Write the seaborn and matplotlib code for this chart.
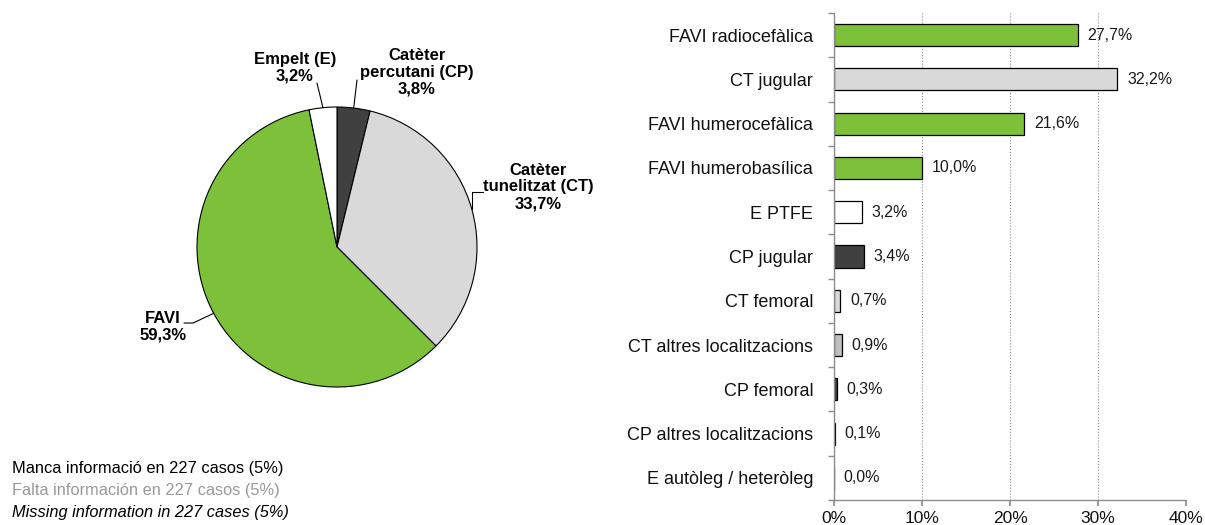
import numpy as np
import matplotlib
matplotlib.use("Agg")
import matplotlib.pyplot as plt
import seaborn as sns

# pie: clockwise from the top
pie_labels = ["Catèter\npercutani (CP)", "Catèter\ntunelitzat (CT)", "FAVI", "Empelt (E)"]
pie_values = [3.8, 33.7, 59.3, 3.2]
pie_colors = ["#404040", "#d9d9d9", "#7dc13b", "#ffffff"]

bar_labels = [
    "FAVI radiocefàlica", "CT jugular", "FAVI humerocefàlica", "FAVI humerobasílica",
    "E PTFE", "CP jugular", "CT femoral", "CT altres localitzacions",
    "CP femoral", "CP altres localitzacions", "E autòleg / heteròleg",
]
bar_values = [27.7, 32.2, 21.6, 10.0, 3.2, 3.4, 0.7, 0.9, 0.3, 0.1, 0.0]
bar_colors = [
    "#7dc13b", "#d9d9d9", "#7dc13b", "#7dc13b", "#ffffff", "#404040",
    "#d9d9d9", "#bfbfbf", "#404040", "#404040", "#ffffff",
]
x_ticks = [0, 10, 20, 30, 40]

footer_lines = [
    "Manca informació en 227 casos (5%)",
    "Falta información en 227 casos (5%)",
    "Missing information in 227 cases (5%)",
]

sns.set_theme(style="white")
plt.rcParams["font.family"] = ["Liberation Sans", "DejaVu Sans"]
plt.rcParams["text.color"] = "black"


def pct(v):
    return f"{v:.1f}%".replace(".", ",")


fig = plt.figure(figsize=(12.05, 5.25), dpi=100)

# ---- pie ----
pax = fig.add_axes([162 / 1205, 103 / 525, 350 / 1205, 350 / 525])
wedges, _ = pax.pie(
    pie_values, colors=pie_colors, startangle=90, counterclock=False,
    wedgeprops=dict(edgecolor="black", linewidth=0.8),
)
pax.set_xlim(-1.25, 1.25)
pax.set_ylim(-1.25, 1.25)
pax.set_aspect("equal")

# label centre, leader start, horizontal run before heading to the wedge (None = up to wedge x)
label_pos = [(0.57, 1.25), (1.436, 0.429), (-1.243, -0.571), (-0.30, 1.279)]
leader_start = [(0.143, 1.193), (1.043, 0.393), (-1.093, -0.543), (-0.143, 1.171)]
leader_run = [0.0, None, 0.065, 0.0]

for w, lab, val, tp, ls, run in zip(wedges, pie_labels, pie_values, label_pos, leader_start, leader_run):
    ang = np.deg2rad((w.theta1 + w.theta2) / 2)
    ex, ey = np.cos(ang), np.sin(ang)
    pax.text(tp[0], tp[1], f"{lab}\n{pct(val)}", ha="center", va="center",
             fontsize=12, fontweight="bold", linespacing=1.15, color="black")
    if run is None:
        xs = [ls[0], ex, ex]
        ys = [ls[1], ls[1], ey]
    elif run:
        xs = [ls[0], ls[0] + run, ex]
        ys = [ls[1], ls[1], ey]
    else:
        xs = [ls[0], ex]
        ys = [ls[1], ey]
    pax.plot(xs, ys, color="black", linewidth=0.8, clip_on=False)

# ---- bars ----
ax = fig.add_axes([834 / 1205, 25 / 525, 352 / 1205, 487 / 525])
sns.barplot(x=bar_values, y=bar_labels, hue=bar_labels, palette=bar_colors, legend=False,
            width=0.5, edgecolor="black", linewidth=0.9, saturation=1, ax=ax)
for i, v in enumerate(bar_values):
    ax.annotate(pct(v), (v, i), xytext=(7, 0), textcoords="offset points",
                ha="left", va="center", fontsize=11.5, color="#1a1a1a")

ax.set_xlim(0, 40)
ax.set_xticks(x_ticks)
ax.set_xticklabels([f"{t}%" for t in x_ticks])
ax.set_ylim(len(bar_values) - 0.5, -0.5)
ax.set_yticks(np.arange(-0.5, len(bar_values), 1), minor=True)
ax.set_xlabel("")
ax.set_ylabel("")
ax.xaxis.grid(True, linestyle=":", color="#8c8c8c", linewidth=0.8)
ax.yaxis.grid(False)
ax.set_axisbelow(True)
for s in ["top", "right"]:
    ax.spines[s].set_visible(False)
for s in ["left", "bottom"]:
    ax.spines[s].set_color("#8c8c8c")
    ax.spines[s].set_linewidth(1)
ax.tick_params(axis="y", which="major", length=0, pad=15, labelsize=13, labelcolor="#111111")
ax.tick_params(axis="y", which="minor", left=True, length=4, color="#8c8c8c", direction="out")
ax.tick_params(axis="x", bottom=True, length=4, color="#8c8c8c", direction="out",
               pad=4, labelsize=12.5, labelcolor="#111111")

# ---- footer ----
footer_colors = ["black", "#999999", "black"]
footer_styles = ["normal", "normal", "italic"]
for k, (line, c, st) in enumerate(zip(footer_lines, footer_colors, footer_styles)):
    fig.text(12 / 1205, 1 - (469 + 21.5 * k) / 525, line, ha="left", va="center",
             fontsize=11.8, color=c, fontstyle=st)

fig.savefig("out.png", dpi=100)
